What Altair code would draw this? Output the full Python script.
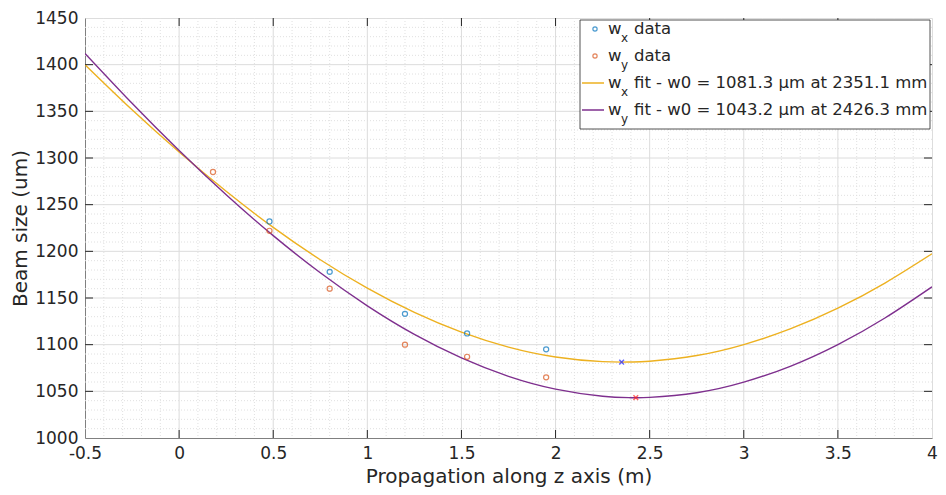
import altair as alt
import pandas as pd
import numpy as np

# ---- data ----
wx_z = [0.48, 0.80, 1.20, 1.53, 1.95]
wx_w = [1232, 1178, 1133, 1112, 1095]
wy_z = [0.18, 0.48, 0.80, 1.20, 1.53, 1.95]
wy_w = [1285, 1222, 1160, 1100, 1087, 1065]

fit_z = [-0.5, -0.25, 0.0, 0.25, 0.5, 0.75, 1.0, 1.25, 1.5, 1.75, 2.0, 2.25, 2.4,
         2.5, 2.75, 3.0, 3.25, 3.5, 3.75, 4.0]
wx_fit = [1400, 1351.7, 1306.5, 1264.4, 1225.7, 1191.0, 1160.5, 1134.5, 1113.4, 1097.4,
          1086.8, 1081.8, 1081.4, 1082.3, 1088.4, 1100.1, 1117.1, 1139.1, 1166.0, 1197.4]
wy_fit = [1412, 1358.6, 1308.0, 1260.6, 1216.8, 1177.0, 1141.6, 1111.0, 1085.8, 1066.1,
          1052.4, 1044.8, 1043.2, 1043.5, 1048.5, 1059.8, 1077.1, 1100.1, 1128.6, 1162.0]

wx_min_z, wx_min_w = [2.3511], [1081.3]
wy_min_z, wy_min_w = [2.4263], [1043.2]

x_ticks = [-0.5, 0, 0.5, 1, 1.5, 2, 2.5, 3, 3.5, 4]
y_ticks = [1000, 1050, 1100, 1150, 1200, 1250, 1300, 1350, 1400, 1450]

legend_labels = ["data", "data",
                 "fit - w0 = 1081.3 µm at 2351.1 mm",
                 "fit - w0 = 1043.2 µm at 2426.3 mm"]
legend_subs = ["x", "y", "x", "y"]

BLUE = "#0072BD"
ORANGE = "#D95319"
YELLOW = "#EDB120"
PURPLE = "#7E2F8E"
TXT = "#262626"
AX = "#808080"
FONT = "DejaVu Sans"

W, H = 847, 420
XD = [-0.5, 4]
YD = [1000, 1450]

xs = alt.Scale(domain=XD, nice=False, zero=False)
ys = alt.Scale(domain=YD, nice=False, zero=False)

minor_x = [round(v, 2) for v in np.arange(-0.4, 4.0, 0.1) if abs(round(v * 2) - v * 2) > 1e-6]
minor_y = [v for v in range(1010, 1450, 10) if v % 50 != 0]

xaxis = alt.Axis(values=x_ticks, title="Propagation along z axis (m)", grid=False, ticks=False,
                 domainColor=AX, labelColor=TXT, titleColor=TXT, labelFont=FONT, titleFont=FONT,
                 labelFontSize=17, titleFontSize=20, titleFontWeight="normal", labelPadding=7,
                 titlePadding=5, labelFlush=False,
                 labelExpr="replace(format(datum.value, '~g'), '\u2212', '-')")
yaxis = alt.Axis(values=y_ticks, title="Beam size (um)", grid=False, ticks=False,
                 domainColor=AX, labelColor=TXT, titleColor=TXT, labelFont=FONT, titleFont=FONT,
                 labelFontSize=17, titleFontSize=20, titleFontWeight="normal", labelPadding=7,
                 titlePadding=4, labelFlush=False, format="d")


def X(f="z"):
    return alt.X(f"{f}:Q", scale=xs, axis=xaxis)


def Y(f="w"):
    return alt.Y(f"{f}:Q", scale=ys, axis=yaxis)


minor_xg = alt.Chart(pd.DataFrame({"v": minor_x})).mark_rule(
    color="#e0e0e0", strokeDash=[1, 2], strokeWidth=1).encode(x=X("v"))
minor_yg = alt.Chart(pd.DataFrame({"v": minor_y})).mark_rule(
    color="#e0e0e0", strokeDash=[1, 2], strokeWidth=1).encode(y=Y("v"))
major_xg = alt.Chart(pd.DataFrame({"v": x_ticks[1:-1]})).mark_rule(
    color="#dcdcdc", strokeWidth=1).encode(x=X("v"))
major_yg = alt.Chart(pd.DataFrame({"v": y_ticks[1:-1]})).mark_rule(
    color="#dcdcdc", strokeWidth=1).encode(y=Y("v"))

# inward ticks on all four sides
tick_len = 8
xt_df = pd.DataFrame({"v": x_ticks[1:-1]})
yt_df = pd.DataFrame({"v": y_ticks[1:-1]})
xt_bot = alt.Chart(xt_df).mark_rule(color=TXT, strokeWidth=1).encode(
    x=X("v"), y=alt.value(H), y2=alt.value(H - tick_len))
xt_top = alt.Chart(xt_df).mark_rule(color=TXT, strokeWidth=1).encode(
    x=X("v"), y=alt.value(0), y2=alt.value(tick_len))
yt_l = alt.Chart(yt_df).mark_rule(color=TXT, strokeWidth=1).encode(
    y=Y("v"), x=alt.value(0), x2=alt.value(tick_len))
yt_r = alt.Chart(yt_df).mark_rule(color=TXT, strokeWidth=1).encode(
    y=Y("v"), x=alt.value(W), x2=alt.value(W - tick_len))


def line(ws, col):
    df = pd.DataFrame({"z": fit_z, "w": ws})
    return alt.Chart(df).mark_line(strokeWidth=1.4, interpolate="natural", clip=True,
                                   color=col).encode(x=X(), y=Y())


def pts(zs, ws, col):
    df = pd.DataFrame({"z": zs, "w": ws})
    return alt.Chart(df).mark_point(shape="circle", size=26, strokeWidth=1.2, filled=False,
                                    color=col).encode(x=X(), y=Y())


def cross(zs, ws, col):
    df = pd.DataFrame({"z": zs, "w": ws})
    return alt.Chart(df).mark_point(shape="M-1,-1L1,1M-1,1L1,-1", size=22, strokeWidth=1.4,
                                    filled=False, color=col).encode(x=X(), y=Y())


# ---- manual legend (box at plot-relative pixel positions) ----
one = pd.DataFrame({"a": [0]})
LX0, LX1, LY0, LY1 = 495, 845, 2, 111
leg_box = alt.Chart(one).mark_rect(fill="white", stroke="#262626", strokeWidth=0.8).encode(
    x=alt.value(LX0), x2=alt.value(LX1), y=alt.value(LY0), y2=alt.value(LY1))
row_y = [11, 38, 65, 92]
leg = [leg_box]
leg_colors = [BLUE, ORANGE, YELLOW, PURPLE]
for i in range(4):
    yy = row_y[i]
    if i < 2:
        leg.append(alt.Chart(one).mark_point(shape="circle", size=18, strokeWidth=1.2, filled=False,
                                             color=leg_colors[i]).encode(
            x=alt.value(LX0 + 15), y=alt.value(yy)))
    else:
        leg.append(alt.Chart(one).mark_rule(color=leg_colors[i], strokeWidth=1.5).encode(
            x=alt.value(LX0 + 2), x2=alt.value(LX0 + 24), y=alt.value(yy)))
    leg.append(alt.Chart(one).mark_text(text="w", font=FONT, fontSize=16.5, color=TXT, align="left",
                                        baseline="middle").encode(x=alt.value(LX0 + 28),
                                                                  y=alt.value(yy)))
    leg.append(alt.Chart(one).mark_text(text=legend_subs[i], font=FONT, fontSize=12, color=TXT,
                                        align="left", baseline="middle").encode(
        x=alt.value(LX0 + 41), y=alt.value(yy + 9)))
    leg.append(alt.Chart(one).mark_text(text=legend_labels[i], font=FONT, fontSize=16.5, color=TXT,
                                        align="left", baseline="middle").encode(
        x=alt.value(LX0 + 54), y=alt.value(yy)))

chart = alt.layer(
    minor_xg, minor_yg, major_xg, major_yg,
    line(wx_fit, YELLOW), line(wy_fit, PURPLE),
    pts(wx_z, wx_w, BLUE), pts(wy_z, wy_w, ORANGE),
    cross(wx_min_z, wx_min_w, "#2020ff"), cross(wy_min_z, wy_min_w, "#ff2020"),
    xt_bot, xt_top, yt_l, yt_r, *leg
).properties(
    width=W, height=H,
    autosize=alt.AutoSizeParams(type="none"),
    padding={"left": 77, "top": 10, "right": 6, "bottom": 49},
).configure_view(stroke=AX, strokeWidth=1).configure(background="white")

chart.save("out.html", embed_options={"renderer": "svg", "actions": False})
